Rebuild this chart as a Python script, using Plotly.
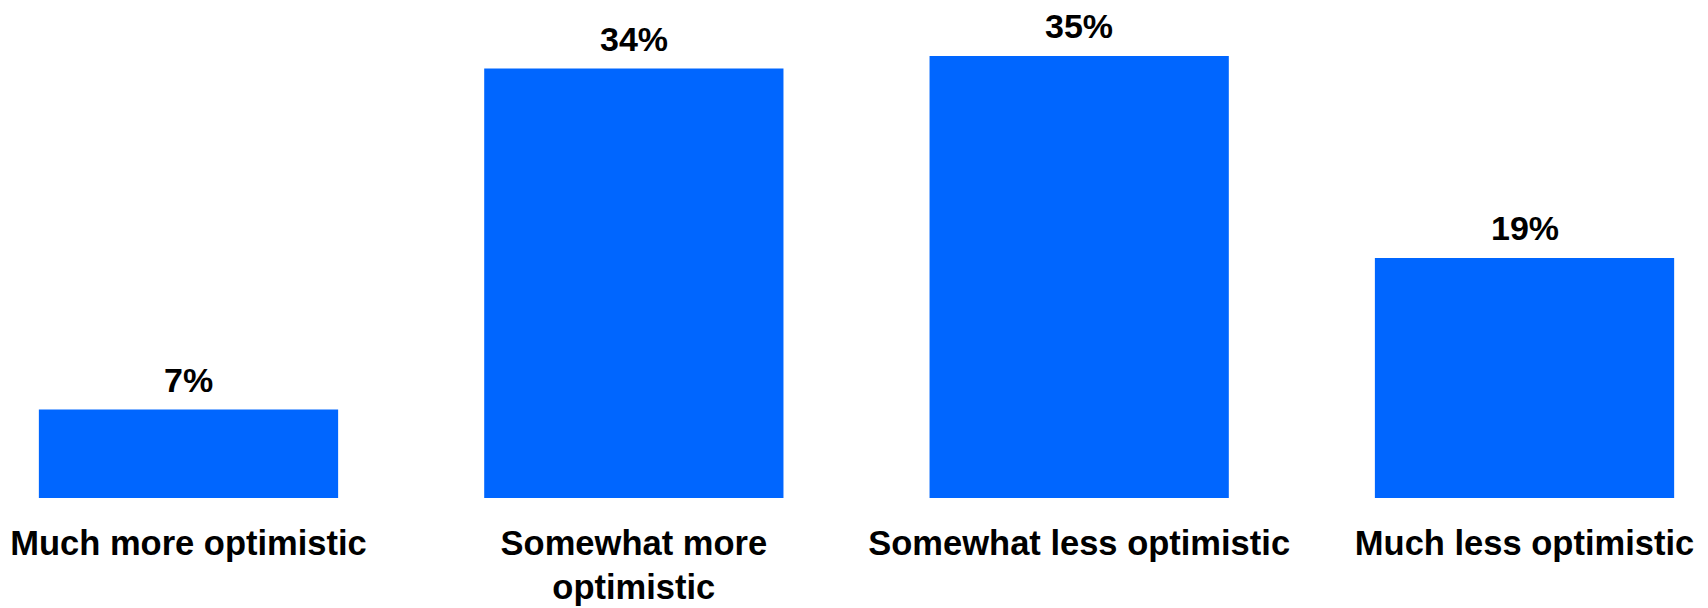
import plotly.graph_objects as go

categories = ["Much more optimistic", "Somewhat more<br>optimistic",
              "Somewhat less optimistic", "Much less optimistic"]
values = [7, 34, 35, 19]
value_labels = ["7%", "34%", "35%", "19%"]

BAR_COLOR = "#0066FF"
FONT = "Liberation Sans, Arial, sans-serif"

fig = go.Figure()
fig.add_trace(go.Bar(
    x=categories, y=values, width=0.672,
    marker=dict(color=BAR_COLOR, line=dict(width=0)),
    hoverinfo="skip",
))

for c, v, t in zip(categories, values, value_labels):
    fig.add_annotation(x=c, y=v, text=t, showarrow=False,
                       xanchor="center", yanchor="bottom", yshift=10, borderpad=0,
                       font=dict(family=FONT, size=34, color="#000000", weight="bold"))

# page body has an 8px default margin, so the figure is sized to fill the rest
fig.update_layout(
    width=1700, height=600,
    margin=dict(l=0, r=0, t=0, b=110),
    paper_bgcolor="white", plot_bgcolor="white",
    showlegend=False,
    xaxis=dict(type="category", range=[-0.4053, 3.412], showgrid=False, zeroline=False,
               showline=False, ticks="", ticklabelstandoff=21,
               tickfont=dict(family=FONT, size=34.5, color="#000000", weight="bold")),
    yaxis=dict(range=[0, 38.8], showgrid=False, zeroline=False, showline=False,
               showticklabels=False, ticks=""),
)

fig.write_html("out.html")
